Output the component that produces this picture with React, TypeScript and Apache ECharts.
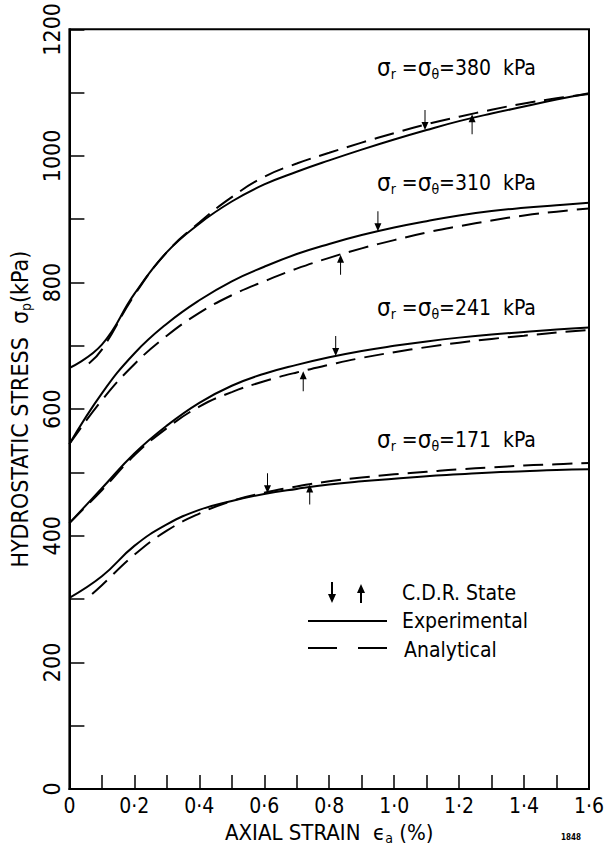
import React, { useEffect, useRef } from "react";
import * as echarts from "echarts";

// Axial strain grid (%)
const strain = [0, 0.1, 0.2, 0.3, 0.4, 0.5, 0.6, 0.7, 0.8, 0.9, 1.0, 1.1, 1.2, 1.3, 1.4, 1.5, 1.6];
const strainA380 = [0.06, 0.1, 0.2, 0.3, 0.4, 0.5, 0.6, 0.7, 0.8, 0.9, 1.0, 1.1, 1.2, 1.3, 1.4, 1.5, 1.6];
const strainA171 = [0.07, 0.1, 0.2, 0.3, 0.4, 0.5, 0.6, 0.7, 0.8, 0.9, 1.0, 1.1, 1.2, 1.3, 1.4, 1.5, 1.6];

// Experimental (solid) hydrostatic stress, kPa
const exp380 = [665, 702, 782, 848, 893, 928, 955, 975, 993, 1010, 1026, 1041, 1055, 1067, 1078, 1089, 1099];
const exp310 = [545, 625, 688, 735, 772, 802, 825, 845, 861, 875, 887, 897, 906, 913, 918, 922, 926];
const exp241 = [420, 475, 530, 574, 610, 637, 656, 670, 682, 692, 700, 707, 713, 718, 722, 726, 729];
const exp171 = [302, 336, 384, 418, 441, 455, 466, 474, 481, 486, 490, 494, 497, 500, 502, 504, 505];

// Analytical (dashed) hydrostatic stress, kPa
const ana380 = [672, 694, 780, 848, 895, 935, 967, 988, 1005, 1021, 1036, 1050, 1062, 1073, 1083, 1091, 1098];
const ana310 = [545, 614, 671, 716, 752, 780, 802, 822, 839, 854, 867, 879, 889, 898, 906, 912, 917];
const ana241 = [420, 472, 527, 570, 604, 627, 644, 658, 670, 681, 690, 698, 705, 711, 716, 721, 725];
const ana171 = [308, 322, 370, 408, 435, 455, 468, 478, 486, 492, 497, 501, 505, 508, 511, 513, 515];

// C.D.R. state markers [strain, stress]
const cdrDown = [[1.095, 1041], [0.95, 881], [0.82, 684], [0.61, 467]];
const cdrUp = [[1.24, 1066], [0.835, 844], [0.72, 660], [0.74, 481]];

const confining = ["380", "310", "241", "171"];

const FONT = '"DejaVu Sans Condensed", "Liberation Sans Narrow", "DejaVu Sans", sans-serif';

const zip = (xs: number[], ys: number[]) => xs.map((x, i) => [x, ys[i]]);

const DOWN = "path://M3,0 L4,0 L4,12 L7,12 L3.5,20 L0,12 L3,12 Z";
const UP = "path://M3.5,0 L7,8 L4,8 L4,20 L3,20 L3,8 L0,8 Z";

export default function App() {
  const ref = useRef<HTMLDivElement>(null);
  useEffect(() => {
    if (!ref.current) return;
    const chart = echarts.init(ref.current, undefined, { renderer: "svg" });

    const expSets = [exp380, exp310, exp241, exp171].map((ys) => zip(strain, ys));
    const anaSets = [zip(strainA380, ana380), zip(strain, ana310), zip(strain, ana241), zip(strainA171, ana171)];

    const lineSeries: any[] = [];
    expSets.forEach((d) =>
      lineSeries.push({
        name: "Experimental",
        type: "line",
        data: d,
        smooth: 0.45,
        symbol: "none",
        lineStyle: { color: "#000", width: 2 },
      })
    );
    anaSets.forEach((d) =>
      lineSeries.push({
        name: "Analytical",
        type: "line",
        data: d,
        smooth: 0.45,
        symbol: "none",
        lineStyle: { color: "#000", width: 2, type: [20, 9] },
      })
    );

    const labelYs = [72, 187, 312, 444];
    const rich = {
      g: { fontFamily: FONT, fontSize: 24, fill: "#000" },
      s: { fontFamily: FONT, fontSize: 14, verticalAlign: "bottom", padding: [12, 0, 0, 0] },
      t: { fontFamily: FONT, fontSize: 21 },
    };
    const curveLabels = confining.map((c, i) => ({
      type: "text",
      left: 377,
      top: labelYs[i] - 16,
      style: {
        text: `{g|σ}{s|r}{t| =}{g|σ}{s|θ}{t|=${c}  kPa}`,
        rich,
        fill: "#000",
      },
    }));

    const legendText = (text: string, left: number, top: number) => ({
      type: "text",
      left,
      top,
      style: { text, fontFamily: FONT, fontSize: 21, fill: "#000" },
    });

    chart.setOption({
      animation: false,
      backgroundColor: "#fff",
      grid: { left: 67, right: 23, top: 20, bottom: 58, show: true, borderColor: "#000", borderWidth: 2 },
      xAxis: {
        type: "value",
        min: 0,
        max: 1.6,
        interval: 0.1,
        name: "{n|AXIAL STRAIN  ϵ}{s|a}{n| (%)}",
        nameLocation: "middle",
        nameGap: 30,
        nameTextStyle: {
          rich: {
            n: { fontFamily: FONT, fontSize: 22, color: "#000" },
            s: { fontFamily: FONT, fontSize: 14, color: "#000", verticalAlign: "bottom", padding: [12, 0, 0, 0] },
          },
        },
        axisLine: { lineStyle: { color: "#000", width: 2 } },
        axisTick: { inside: true, length: 14, lineStyle: { color: "#000", width: 1.5 } },
        splitLine: { show: false },
        axisLabel: {
          margin: 6,
          fontFamily: FONT,
          fontSize: 21,
          color: "#000",
          formatter: (v: number) => {
            const t = Math.round(v * 10);
            if (t % 2) return "";
            return t === 0 ? "0" : (t / 10).toFixed(1).replace(".", "·");
          },
        },
      },
      yAxis: {
        type: "value",
        min: 0,
        max: 1200,
        interval: 100,
        name: "{n|HYDROSTATIC STRESS  σ}{s|p}{n|(kPa)}",
        nameLocation: "middle",
        nameGap: 26,
        nameRotate: 90,
        nameTextStyle: {
          rich: {
            n: { fontFamily: FONT, fontSize: 23, color: "#000" },
            s: { fontFamily: FONT, fontSize: 14, color: "#000", verticalAlign: "bottom", padding: [12, 0, 0, 0] },
          },
        },
        axisLine: { lineStyle: { color: "#000", width: 2 } },
        axisTick: { inside: true, length: 15, lineStyle: { color: "#000", width: 1.5 } },
        splitLine: { show: false },
        axisLabel: {
          rotate: 90,
          margin: 6,
          fontFamily: FONT,
          fontSize: 23,
          color: "#000",
          formatter: (v: number) => (Math.round(v) % 200 === 0 ? String(Math.round(v)) : ""),
        },
      },
      series: [
        ...lineSeries,
        {
          name: "C.D.R. State",
          type: "scatter",
          data: cdrDown,
          symbol: DOWN,
          symbolSize: [7, 20],
          symbolOffset: [0, -10],
          itemStyle: { color: "#000", opacity: 1 },
        },
        {
          name: "C.D.R. State",
          type: "scatter",
          data: cdrUp,
          symbol: UP,
          symbolSize: [7, 20],
          symbolOffset: [0, 10],
          itemStyle: { color: "#000", opacity: 1 },
        },
      ],
      graphic: [
        ...curveLabels,
        // legend
        {
          type: "polygon",
          shape: { points: [[331, 582], [333, 582], [333, 594], [336, 594], [332, 603], [328, 594], [331, 594]] },
          style: { fill: "#000" },
        },
        {
          type: "polygon",
          shape: { points: [[361, 584], [365, 593], [362, 593], [362, 603], [360, 603], [360, 593], [357, 593]] },
          style: { fill: "#000" },
        },
        legendText("C.D.R. State", 402, 582),
        { type: "line", shape: { x1: 308, y1: 621, x2: 387, y2: 621 }, style: { stroke: "#000", lineWidth: 2 } },
        legendText("Experimental", 402, 610),
        { type: "line", shape: { x1: 308, y1: 648, x2: 337, y2: 648 }, style: { stroke: "#000", lineWidth: 2 } },
        { type: "line", shape: { x1: 358, y1: 648, x2: 387, y2: 648 }, style: { stroke: "#000", lineWidth: 2 } },
        legendText("Analytical", 404, 639),
        { type: "text", left: 561, top: 833, style: { text: "1848", fontFamily: FONT, fontSize: 8, fontWeight: "bold", fill: "#000" } },
      ],
    });
    return () => chart.dispose();
  }, []);
  return <div ref={ref} style={{ position: "fixed", left: 0, top: 0, width: 612, height: 850 }} />;
}
